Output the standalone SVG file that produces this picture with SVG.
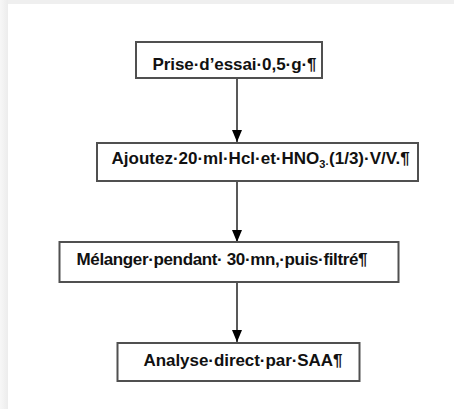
<svg xmlns="http://www.w3.org/2000/svg" width="454" height="409" viewBox="0 0 454 409">
<defs>
<linearGradient id="lg" x1="0" y1="0" x2="1" y2="0">
<stop offset="0" stop-color="#f7f7f7"/>
<stop offset="1" stop-color="#ececec"/>
</linearGradient>
<marker id="ah" viewBox="0 0 12 10" refX="12" refY="5" markerWidth="12" markerHeight="10" markerUnits="userSpaceOnUse" orient="auto">
<path d="M0,0 L12,5 L0,10 Z" fill="#000"/>
</marker>
</defs>
<style>
.box{fill:#fff;stroke:#505050;stroke-width:2}
.t{font-family:"Liberation Sans",Arial,sans-serif;font-weight:bold;font-size:17px;fill:#111}
.c{stroke:#222;stroke-width:1.5;fill:none}
</style>
<rect x="0" y="0" width="454" height="409" fill="#efefef"/>
<rect x="0" y="0" width="8" height="409" fill="url(#lg)"/>
<rect x="8" y="4" width="446" height="405" fill="#fff"/>
<g id="connectors">
<line class="c" x1="237" y1="79" x2="237" y2="142" marker-end="url(#ah)"/>
<line class="c" x1="237" y1="182" x2="237" y2="242" marker-end="url(#ah)"/>
<line class="c" x1="237" y1="283" x2="237" y2="342" marker-end="url(#ah)"/>
</g>
<g id="node1">
<rect class="box" x="136" y="42" width="186" height="36"/>
<text class="t" x="152.5" y="70" textLength="164" lengthAdjust="spacing">Prise·d’essai·0,5·g·¶</text>
</g>
<g id="node2">
<rect class="box" x="97" y="143" width="321" height="38"/>
<text class="t" x="111.5" y="164">Ajoutez·20·ml·Hcl·et·HNO<tspan font-size="11" dy="4">3·</tspan><tspan dy="-4">(1/3)·V/V.¶</tspan></text>
</g>
<g id="node3">
<rect class="box" x="59.5" y="242" width="339" height="40"/>
<text class="t" x="76.5" y="265" textLength="291" lengthAdjust="spacing">Mélanger·pendant· 30·mn,·puis·filtré¶</text>
</g>
<g id="node4">
<rect class="box" x="117.5" y="343" width="242" height="38"/>
<text class="t" x="143.5" y="366" textLength="199" lengthAdjust="spacing">Analyse·direct·par·SAA¶</text>
</g>
</svg>
